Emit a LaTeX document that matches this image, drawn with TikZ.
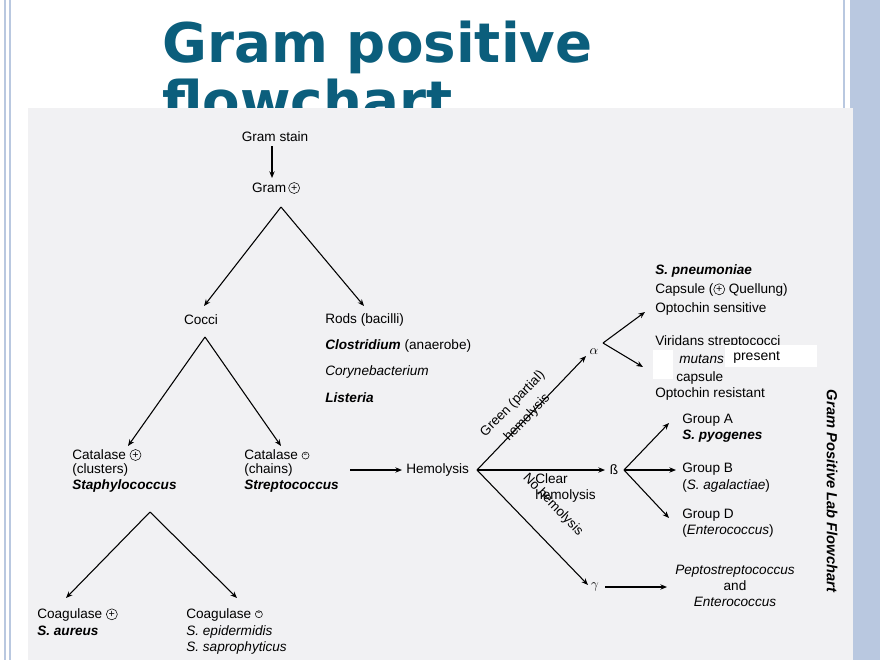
\documentclass[tikz,border=0pt]{standalone}
\usepackage{fontspec}
\setmainfont{Liberation Sans}
\newfontfamily\ttlfont{DejaVu Sans}
\usetikzlibrary{arrows.meta}
\definecolor{ttl}{HTML}{0B5E7C}
\definecolor{panel}{HTML}{F1F1F3}
\definecolor{frameblue}{HTML}{B9C8E0}
\newcommand{\cpl}{\tikz[baseline=-0.6ex]\node[circle,draw,line width=0.4pt,inner sep=0.6pt,font=\fontsize{8}{8}\selectfont]{+};}
\newcommand{\cmn}{\tikz[baseline=-0.6ex]\node[circle,draw,line width=0.4pt,inner sep=0.6pt,font=\fontsize{8}{8}\selectfont]{-};}
\begin{document}
\begin{tikzpicture}[x=0.75pt,y=-0.75pt,
  t/.style={inner sep=0pt,anchor=west,font=\fontsize{10.2}{12}\selectfont},
  c/.style={inner sep=0pt,font=\fontsize{10.2}{12}\selectfont},
  ar/.style={-{Stealth[length=5pt,width=4pt]},line width=0.8pt},
  ln/.style={line width=0.8pt}]
\useasboundingbox (0,0) rectangle (880,660);
\fill[white] (0,0) rectangle (880,660);
\fill[frameblue] (850,0) rectangle (880,660);
\draw[frameblue,line width=1.5pt] (5,0) -- (5,660) (10,0)--(10,660);
\draw[frameblue,line width=1.5pt] (844,0) -- (844,660);
\node[anchor=base west,inner sep=0pt,text=ttl,font=\ttlfont\bfseries\fontsize{41}{42}\selectfont] (title1) at (162,62) {Gram positive};
\node[anchor=base west,inner sep=0pt,text=ttl,font=\ttlfont\bfseries\fontsize{41}{42}\selectfont] (title2) at (162,120) {flowchart};
\fill[panel] (28,108) rectangle (853,660);

% top
\node[c] (stain) at (275,137) {Gram stain};
\node[c] (gp) at (276,188) {Gram\,\cpl};
\draw[ar] (272,146) -- (272,178);
\coordinate (apx1) at (281,207);
\coordinate (ca) at (204,306);
\coordinate (ra) at (364,306);
\draw[ar] (apx1) -- (ca);
\draw[ar] (apx1) -- (ra);
\node[c] (cocci) at (201,320) {Cocci};
\node[t] (rods) at (325,320) {Rods (bacilli)};
\node[t] (clos) at (325,346) {\textbf{\textit{Clostridium}} (anaerobe)};
\node[t] (cory) at (325,372) {\textit{Corynebacterium}};
\node[t] (list) at (325,398) {\textbf{\textit{Listeria}}};

\coordinate (apx2) at (205,337);
\coordinate (cpa) at (128,446);
\coordinate (cma) at (281,446);
\draw[ar] (apx2) -- (cpa);
\draw[ar] (apx2) -- (cma);
\node[t] (catp) at (72,455) {Catalase \cpl};
\node[t] (clus) at (72,470) {(clusters)};
\node[t] (staph) at (72,486) {\textbf{\textit{Staphylococcus}}};
\node[t] (catm) at (244,455) {Catalase \cmn};
\node[t] (chain) at (244,470) {(chains)};
\node[t] (strep) at (244,486) {\textbf{\textit{Streptococcus}}};

\coordinate (apx3) at (150,512);
\coordinate (cgp) at (66,598);
\coordinate (cgm) at (237,598);
\draw[ar] (apx3) -- (cgp);
\draw[ar] (apx3) -- (cgm);
\node[t] (coap) at (37,615) {Coagulase \cpl};
\node[t] (saur) at (37,631) {\textbf{\textit{S. aureus}}};
\node[t] (coam) at (186,615) {Coagulase \cmn};
\node[t] (sepi) at (186,632) {\textit{S. epidermidis}};
\node[t] (ssap) at (186,648) {\textit{S. saprophyticus}};

% hemolysis
\node[t] (hemo) at (406,470) {Hemolysis};
\draw[ar] (350,470) -- (402,470);
\coordinate (hv) at (477,470);
\node[c] (alpha) at (594,352) {$\alpha$};
\node[c] (beta) at (614,470) {\ss};
\node[c] (gamma) at (595,587) {$\gamma$};
\draw[ar] (hv) -- (586,356);
\draw[ar] (hv) -- (605,470);
\draw[ar] (hv) -- (588,585);
\node[c,rotate=46,align=center,font=\fontsize{10}{15}\selectfont] (green) at (520,411) {Green (partial)\\hemolysis};
\node[t,align=left,anchor=north west,font=\fontsize{10.2}{12}\selectfont] (clear) at (535,473) {Clear\\hemolysis};
\node[c,rotate=-46,font=\fontsize{10}{12}\selectfont] (noh) at (553,505) {No hemolysis};

\coordinate (av) at (603,343);
\draw[ar] (av) -- (645,312);
\draw[ar] (av) -- (643,367);
\node[t] (spn) at (655,271) {\textbf{\textit{S. pneumoniae}}};
\node[t] (cap1) at (655,290) {Capsule (\cpl\ Quellung)};
\node[t] (opt1) at (655,309) {Optochin sensitive};
\node[t] (vir) at (655,342) {Viridans streptococci};
\node[t] (mut) at (679,360) {\textit{mutans},};
\node[t] (cap2) at (676,378) {capsule};
\node[t] (opt2) at (655,394) {Optochin resistant};
\fill[white] (653,350) rectangle (673,379);
\fill[white] (725,345) rectangle (817,367);
\node[t,font=\fontsize{10.5}{12}\selectfont] (pres) at (733,357) {present};

\coordinate (bv) at (624,470);
\draw[ar] (bv) -- (669,423);
\draw[ar] (bv) -- (676,470);
\draw[ar] (bv) -- (669,518);
\node[t] (ga) at (682,420) {Group A};
\node[t] (spy) at (682,436) {\textbf{\textit{S. pyogenes}}};
\node[t] (gb) at (682,469) {Group B};
\node[t] (sag) at (682,486) {(\textit{S. agalactiae})};
\node[t] (gd) at (682,515) {Group D};
\node[t] (ent) at (682,531) {(\textit{Enterococcus})};

\draw[ar] (605,587) -- (667,587);
\node[c,align=center,font=\fontsize{10.2}{12}\selectfont] (pep) at (735,586) {\textit{Peptostreptococcus}\\and\\\textit{Enterococcus}};

\node[c,rotate=-90,font=\bfseries\itshape\fontsize{11}{12}\selectfont] (side) at (832,491) {Gram Positive Lab Flowchart};
\end{tikzpicture}
\end{document}
